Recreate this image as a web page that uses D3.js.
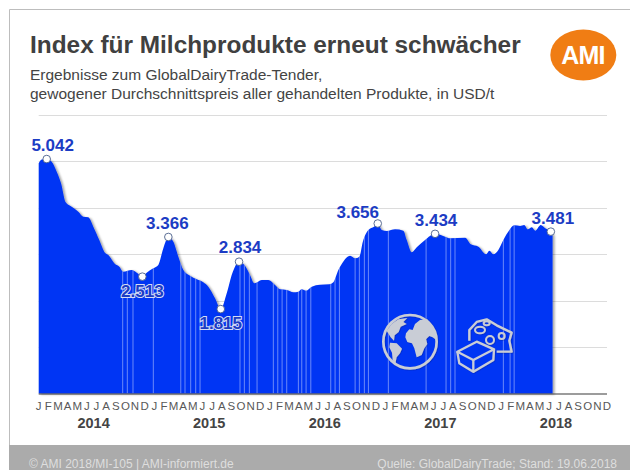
<!DOCTYPE html>
<html lang="de">
<head>
<meta charset="utf-8">
<script src="https://cdn.jsdelivr.net/npm/d3@7"></script>
<style>
html,body{margin:0;padding:0;background:#fff}
svg{display:block}
text{font-family:"Liberation Sans",Arial,sans-serif}
</style>
</head>
<body>
<svg id="chart" width="630" height="470"></svg>
<script>
// ---- data ----
const monthLetters = ["J","F","M","A","M","J","J","A","S","O","N","D"];
const years = [2014, 2015, 2016, 2017, 2018];
const gridValues = [1000, 2000, 3000, 4000, 5000, 6000];
// position of each tender on the month axis (0 = January 2014)
const tenderMonths = [0,0.31,0.83,1.35,1.87,2.32,2.8,3.42,4.11,4.63,5.15,5.67,6.29,6.88,7.23,7.92,8.37,8.78,9.66,10.18,10.76,11.21,11.9,12.42,12.94,13.46,13.98,14.5,15.02,15.71,16.41,17.09,17.61,18.31,18.9,19.52,20.1,20.8,21.42,21.94,22.39,23.16,23.84,24.54,25.06,25.75,26.44,26.96,27.31,27.76,28.35,29.21,30.18,30.59,31.11,31.46,32.33,32.85,33.29,33.65,34.23,34.82,35.2,35.62,36.14,37.0,37.86,38.21,38.73,39.25,40.11,41.15,42.19,42.71,44.27,44.86,45.65,46.45,46.79,47.2,47.72,48.24,48.87,49.36,49.98,50.4,50.78,51.2,51.54,52.13,52.58,53.17,53.35];
const tenderPrices = [4950,5030,5042,4985,4770,4520,4112,4017,3910,3802,3789,3587,3301,3028,2978,2785,2727,2619,2656,2598,2513,2598,2692,2763,3123,3366,3265,2942,2656,2533,2456,2391,2297,2047,1815,2155,2585,2834,2748,2548,2370,2441,2441,2333,2241,2226,2176,2189,2241,2211,2297,2340,2348,2391,2656,2785,2963,2907,2942,3265,3516,3587,3656,3516,3495,3531,3501,3301,3037,3144,3301,3434,3372,3338,3351,3209,3157,2994,3071,2994,3086,3301,3516,3617,3602,3624,3531,3574,3501,3624,3553,3481,3400];
const labelledMonths = [0.83,10.76,13.46,18.9,20.8,35.2,41.15,53.17];
const labelledValues = [5042,2513,3366,1815,2834,3656,3434,3481];
const stripeMonths = [8.72,9.2,9.79,11.9,14.75,15.19,15.78,16.3,16.75,20.9,21.35,21.87,22.67,24.36,24.82,25.27,25.75,26.96,27.31,27.76,28.25,30.32,30.77,31.22,32.85,33.29,33.81,34.23,36.3,40.22,42.29,42.77,43.22,48.24,48.94,49.36];

// ---- label layout (offset from the marker) ----
const labelOffsets = [[6,-8],[0,20],[-1,-8],[0,20],[1,-9],[-20,-5],[1,-8],[2,-8]];
const insideLabel = [false,true,false,true,false,false,false,false];

const svg = d3.select("#chart");
const x = d3.scaleLinear().domain([0, 59]).range([38.7, 607]);
const y = d3.scaleLinear().domain([0, 6000]).range([393.5, 114.5]);
const blue = "#0535f4";
const labelBlue = "#1c3cc4";
const deFormat = v => d3.format(".3f")(v / 1000);

const defs = svg.append("defs");
const shadow = defs.append("filter").attr("id","shadow").attr("x","-5%").attr("y","-5%").attr("width","115%").attr("height","115%");
shadow.append("feDropShadow").attr("dx",2).attr("dy",1).attr("stdDeviation",1.3).attr("flood-color","#000").attr("flood-opacity",0.35);
const iconShadow = defs.append("filter").attr("id","iconShadow").attr("x","-20%").attr("y","-20%").attr("width","140%").attr("height","140%");
iconShadow.append("feDropShadow").attr("dx",1.5).attr("dy",1.5).attr("stdDeviation",1).attr("flood-color","#001a80").attr("flood-opacity",0.6);

const points = tenderMonths.map((m,i) => [m, tenderPrices[i]]);
const area = d3.area().x(d => x(d[0])).y0(y(0)).y1(d => y(d[1])).curve(d3.curveMonotoneX);
defs.append("clipPath").attr("id","areaClip").append("path").attr("d", area(points));

// frame and footer
svg.append("path").attr("d","M9.5,470V9.5H630").attr("fill","none").attr("stroke","#bdbdbd").attr("stroke-width",1);
svg.append("rect").attr("x",9).attr("y",445).attr("width",621).attr("height",25).attr("fill","#ababab");

// titles
svg.append("text").attr("x",30).attr("y",53).attr("font-size",24.4).attr("font-weight","bold").attr("fill","#404040").text("Index für Milchprodukte erneut schwächer");
svg.append("text").attr("x",30).attr("y",80).attr("font-size",15.5).attr("fill","#444").text("Ergebnisse zum GlobalDairyTrade-Tender,");
svg.append("text").attr("x",30).attr("y",98.5).attr("font-size",15.5).attr("fill","#444").text("gewogener Durchschnittspreis aller gehandelten Produkte, in USD/t");

// logo
svg.append("ellipse").attr("cx",583.3).attr("cy",55).attr("rx",33).attr("ry",25.5).attr("fill","#f07d14");
svg.append("text").attr("x",583).attr("y",64).attr("text-anchor","middle").attr("font-size",25).attr("font-weight","bold").attr("letter-spacing",-0.8).attr("fill","#fff").text("AMI");

// gridlines
svg.append("g").selectAll("line").data(gridValues).join("line")
  .attr("x1",x(0)).attr("x2",x(59)).attr("y1",d=>Math.round(y(d))+0.5).attr("y2",d=>Math.round(y(d))+0.5)
  .attr("stroke","#dcdcdc").attr("stroke-width",1);

// area
svg.append("path").attr("d",area(points)).attr("fill",blue).attr("filter","url(#shadow)");

// light stripes
svg.append("g").attr("clip-path","url(#areaClip)").selectAll("line").data(stripeMonths).join("line")
  .attr("x1",d=>x(d)).attr("x2",d=>x(d)).attr("y1",y(6000)).attr("y2",y(0))
  .attr("stroke","#fff").attr("stroke-opacity",0.42).attr("stroke-width",1);

// icons
const iconColor = "#c9cdd6";
function drawIcons(g, filter){
  const t = g.append("g").attr("transform","translate(370,300) scale(0.3333)");
  if(filter) t.attr("filter","url(#iconShadow)");
  t.append("circle").attr("cx",120).attr("cy",125).attr("r",80).attr("fill","none").attr("stroke",iconColor).attr("stroke-width",8);
  // Africa and Eurasia
  t.append("path").attr("fill",iconColor).attr("d","M108,100L118,88L128,90L135,72L150,60L172,58L185,75L194,95L199,120L188,112L178,108L168,118L172,132L163,145L155,165L140,172L133,145L126,130L112,126L106,112Z");
  // North America
  t.append("path").attr("fill",iconColor).attr("d","M50,92L65,72L85,58L112,54L100,66L110,72L92,80L86,96L74,106L72,122L62,112L56,102Z");
  // South America
  t.append("path").attr("fill",iconColor).attr("d","M60,128L80,130L96,146L90,160L80,172L76,192L68,180L66,158L58,142Z");
  const s = {fill:"none",stroke:iconColor,"stroke-width":7,"stroke-linejoin":"round"};
  const line = p => { const e = t.append("path").attr("d",p); Object.entries(s).forEach(([k,v])=>e.attr(k,v)); return e; };
  line("M298,122L298,90L320,66L350,58L380,76L425,98L418,122L425,155L380,155");
  t.append("ellipse").attr("cx",330).attr("cy",90).attr("rx",15).attr("ry",10).attr("fill","none").attr("stroke",iconColor).attr("stroke-width",6);
  t.append("ellipse").attr("cx",350).attr("cy",70).attr("rx",9).attr("ry",6).attr("fill","none").attr("stroke",iconColor).attr("stroke-width",6);
  t.append("circle").attr("cx",360).attr("cy",120).attr("r",12).attr("fill","none").attr("stroke",iconColor).attr("stroke-width",6);
  t.append("circle").attr("cx",395).attr("cy",108).attr("r",9).attr("fill","none").attr("stroke",iconColor).attr("stroke-width",6);
  t.append("path").attr("d","M262,155L320,125L372,148L370,180L310,215L268,190Z").attr("fill",blue);
  line("M262,155L320,125L372,148L310,180Z");
  line("M262,155L268,190L310,215L310,180");
  line("M372,148L370,180L310,215");
}
drawIcons(svg.append("g"), true);
defs.append("clipPath").attr("id","reflectClip").append("rect").attr("x",370).attr("y",372).attr("width",160).attr("height",21);
const refl = svg.append("g").attr("clip-path","url(#reflectClip)").attr("opacity",0.22)
  .append("g").attr("transform","translate(0,"+(2*y(0)-6)+") scale(1,-1)");
drawIcons(refl, false);

// baseline
svg.append("line").attr("x1",x(0)).attr("x2",x(59)).attr("y1",394).attr("y2",394).attr("stroke","#3a3a3a").attr("stroke-width",1.2);

// month letters
const allMonths = d3.range(60);
svg.append("g").selectAll("text").data(allMonths).join("text")
  .attr("x",d=>x(d)).attr("y",410).attr("text-anchor","middle").attr("font-size",11.5).attr("fill","#585858")
  .text(d=>monthLetters[d%12]);

// years
svg.append("g").selectAll("text").data(years).join("text")
  .attr("x",(d,i)=>x(5.7+12*i)).attr("y",428).attr("text-anchor","middle").attr("font-size",14.5).attr("font-weight","bold").attr("fill","#444")
  .text(d=>d);

// markers and labels
const marks = labelledValues.map((v,i)=>({m:labelledMonths[i],v,off:labelOffsets[i],inside:insideLabel[i]}));
svg.append("g").selectAll("circle").data(marks).join("circle")
  .attr("cx",d=>x(d.m)).attr("cy",d=>y(d.v)).attr("r",3.8)
  .attr("fill","#fff").attr("stroke","#4a5f8a").attr("stroke-width",0.9);
svg.append("g").selectAll("text").data(marks).join("text")
  .attr("x",d=>x(d.m)+d.off[0]).attr("y",d=>y(d.v)+d.off[1])
  .attr("text-anchor","middle").attr("font-size",17).attr("font-weight","bold")
  .attr("fill",labelBlue)
  .attr("stroke",d=>d.inside?"#d5dcf5":"none").attr("stroke-width",d=>d.inside?2:0).attr("paint-order","stroke")
  .text(d=>deFormat(d.v));

// footer text
svg.append("text").attr("x",29).attr("y",468).attr("font-size",12).attr("fill","#dedede").text("© AMI 2018/MI-105 | AMI-informiert.de");
svg.append("text").attr("x",617).attr("y",468).attr("text-anchor","end").attr("font-size",12).attr("fill","#dedede").text("Quelle: GlobalDairyTrade; Stand: 19.06.2018");
</script>
</body>
</html>
